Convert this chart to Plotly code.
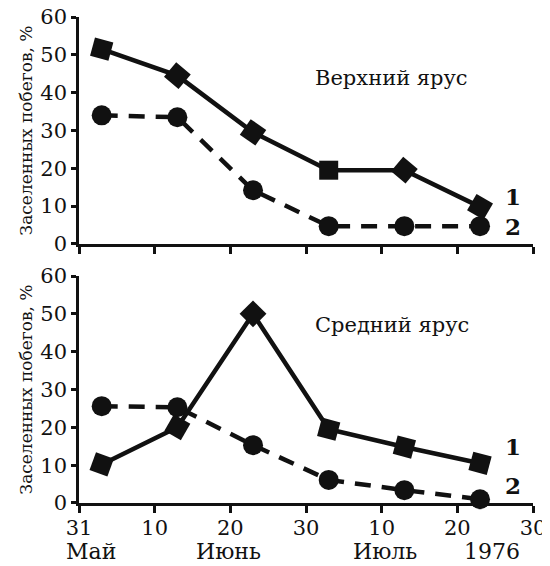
import plotly.graph_objects as go
from plotly.subplots import make_subplots

# dates of the counts (1976)
dates = ["1976-06-03", "1976-06-13", "1976-06-23", "1976-07-03", "1976-07-13", "1976-07-23"]

# upper layer
upper_1 = [51.5, 44.5, 29.5, 19.5, 19.5, 9.8]
upper_2 = [34, 33.5, 14.2, 4.7, 4.7, 4.7]
# middle layer
middle_1 = [10.2, 20, 50, 19.5, 14.8, 10.5]
middle_2 = [25.6, 25.3, 15.3, 6.1, 3.4, 1.0]

tick_dates = ["1976-05-31", "1976-06-10", "1976-06-20", "1976-06-30",
              "1976-07-10", "1976-07-20", "1976-07-30"]
tick_text = ["31", "10", "20", "30", "10", "20", "30"]

FONT = "DejaVu Serif"

fig = make_subplots(rows=2, cols=1, shared_xaxes=False, vertical_spacing=0.066)

def add_pair(row, s1, s2, angles):
    fig.add_trace(go.Scatter(x=dates, y=s2, mode="lines+markers", cliponaxis=False,
                             line=dict(color="#111", width=4.5, dash="16px,11px"),
                             marker=dict(symbol="circle", size=20, color="#111")),
                  row=row, col=1)
    fig.add_trace(go.Scatter(x=dates, y=s1, mode="lines+markers", cliponaxis=False,
                             line=dict(color="#111", width=4.5),
                             marker=dict(symbol="square", size=19, color="#111", angle=angles)),
                  row=row, col=1)

add_pair(1, upper_1, upper_2, [15, 40, 35, 0, 40, 30])
add_pair(2, middle_1, middle_2, [20, 30, 45, 15, 15, 15])

for r in (1, 2):
    fig.update_xaxes(type="date", range=["1976-05-31", "1976-07-30"], automargin=False,
                     tickvals=tick_dates, ticktext=tick_text, showticklabels=(r == 2),
                     ticklabeloverflow="allow", ticklabelstandoff=-3,
                     showgrid=False, zeroline=False, showline=True, linecolor="#111",
                     linewidth=2.5, ticks="outside", ticklen=7, tickwidth=2.5, tickcolor="#111",
                     tickfont=dict(family=FONT, size=21, color="#111"), row=r, col=1)
    fig.update_yaxes(range=[0, 60], tickvals=[0, 10, 20, 30, 40, 50, 60], automargin=False,
                     ticklabeloverflow="allow",
                     showgrid=False, zeroline=False, showline=True, linecolor="#111",
                     linewidth=2.5, ticks="outside", ticklen=5, tickwidth=2.5, tickcolor="#111",
                     tickfont=dict(family=FONT, size=21, color="#111"),
                     title=dict(text="Заселенных побегов, %", standoff=4,
                                font=dict(family=FONT, size=17, color="#111")),
                     row=r, col=1)

ann = dict(showarrow=False, font=dict(family=FONT, size=21, color="#111"))
fig.add_annotation(text="Верхний ярус", x="1976-07-11 08:00", y=44, xref="x", yref="y", **ann)
fig.add_annotation(text="Средний ярус", x="1976-07-11 08:00", y=47, xref="x2", yref="y2", **ann)

num = dict(showarrow=False, font=dict(family=FONT, size=23, color="#111"), xanchor="left")
fig.add_annotation(text="<b>1</b>", x="1976-07-26", y=12.5, xref="x", yref="y", **num)
fig.add_annotation(text="<b>2</b>", x="1976-07-26", y=4.5, xref="x", yref="y", **num)
fig.add_annotation(text="<b>1</b>", x="1976-07-26", y=15, xref="x2", yref="y2", **num)
fig.add_annotation(text="<b>2</b>", x="1976-07-26", y=4.5, xref="x2", yref="y2", **num)

month = dict(showarrow=False, font=dict(family=FONT, size=22, color="#111"),
             xref="paper", yref="paper", yanchor="middle")
for txt, px_x in [("Май", 64), ("Июнь", 194), ("Июль", 419), ("1976", 522)]:
    fig.add_annotation(text=txt, x=(px_x - 79) / 454, y=-(551 - 503) / 486, **month)

# page body adds an 8px offset, margins are set so the plot lands where the reference has it
fig.update_layout(width=550, height=566, showlegend=False,
                  margin=dict(l=71, r=25, t=9, b=71),
                  paper_bgcolor="white", plot_bgcolor="white")

fig.write_html("out.html")
